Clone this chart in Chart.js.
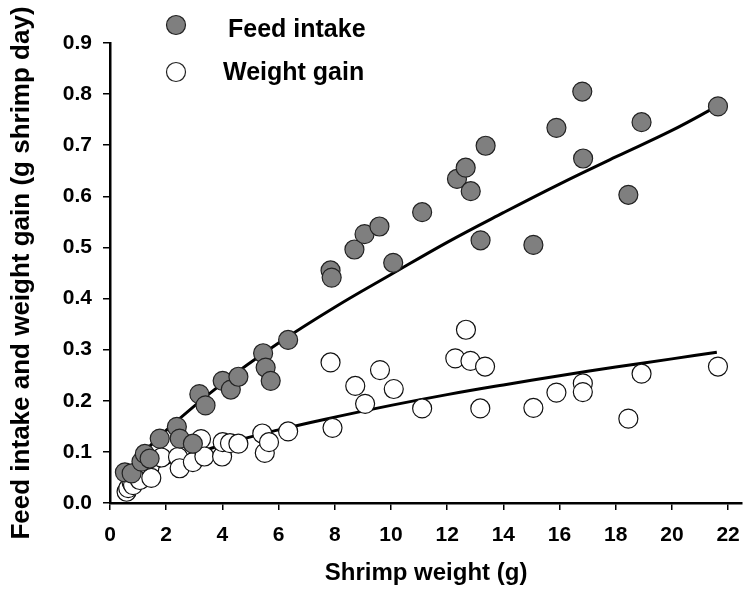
<!DOCTYPE html>
<html>
<head>
<meta charset="utf-8">
<script src="https://cdn.jsdelivr.net/npm/chart.js@4.4.1/dist/chart.umd.min.js"></script>
<style>
    html, body { margin: 0; padding: 0; background: #fff; }
    #wrap { position: relative; width: 753px; height: 592px; }
</style>
</head>
<body>
<div id="wrap"><canvas id="chart" width="753" height="592"></canvas></div>
<script>
// Feed intake points (shrimp weight g, g/shrimp/day)
const feedX = [0.53, 0.77, 1.12, 1.24, 1.41, 1.77, 2.38, 2.48, 2.95, 3.18, 3.40, 4.01, 4.30, 4.57,
    5.45, 5.54, 5.72, 6.34, 7.85, 7.89, 8.70, 9.06, 9.59, 10.08, 11.11, 12.35, 12.66, 12.84,
    13.19, 13.37, 15.07, 15.89, 16.81, 16.84, 18.45, 18.92, 21.64];
const feedY = [0.060, 0.058, 0.081, 0.096, 0.087, 0.126, 0.149, 0.126, 0.116, 0.213, 0.191, 0.239, 0.222, 0.247,
    0.293, 0.265, 0.239, 0.319, 0.455, 0.441, 0.496, 0.526, 0.541, 0.470, 0.569, 0.634, 0.656, 0.610,
    0.514, 0.699, 0.505, 0.734, 0.805, 0.674, 0.603, 0.745, 0.776];

// Weight gain points
const gainX = [0.59, 0.65, 0.77, 0.82, 1.06, 1.41, 1.47, 1.83, 2.42, 2.48, 2.95, 3.24, 3.36, 3.99,
    4.01, 4.27, 4.57, 5.42, 5.51, 5.66, 6.34, 7.85, 7.92, 8.73, 9.08, 9.61, 10.10, 11.11,
    12.29, 12.67, 12.83, 13.18, 13.35, 15.07, 15.89, 16.83, 16.83, 18.45, 18.92, 21.64];
const gainY = [0.022, 0.029, 0.040, 0.035, 0.045, 0.071, 0.049, 0.089, 0.090, 0.068, 0.080, 0.125, 0.091, 0.091,
    0.119, 0.117, 0.116, 0.136, 0.098, 0.119, 0.140, 0.275, 0.147, 0.229, 0.194, 0.260, 0.223, 0.185,
    0.283, 0.339, 0.278, 0.185, 0.267, 0.186, 0.216, 0.234, 0.217, 0.165, 0.253, 0.267];

// Fitted curves
const curveX = [0.5, 1, 2, 4, 6, 8, 10, 12, 14, 16, 18, 20, 21.6];
const feedCurve = [0.053, 0.087, 0.142, 0.234, 0.313, 0.383, 0.447, 0.510, 0.568, 0.624, 0.677, 0.729, 0.776];
const gainCurve = [0.036, 0.052, 0.077, 0.114, 0.143, 0.168, 0.191, 0.212, 0.231, 0.249, 0.266, 0.282, 0.295];

const FONT = "'Liberation Sans', Arial, sans-serif";
const GREY = '#7f7f7f';

function pts(xs, ys) {
    return xs.map((x, i) => ({ x: x, y: ys[i] }));
}

// Legend drawn at top-left like the original
const legendPlugin = {
    id: 'legendMarks',
    afterDraw(chart) {
        const c = chart.ctx;
        c.save();
        c.lineWidth = 1.2;
        c.strokeStyle = '#222';
        c.beginPath();
        c.arc(176, 25, 9.5, 0, Math.PI * 2);
        c.fillStyle = GREY;
        c.fill();
        c.stroke();
        c.beginPath();
        c.arc(176, 72, 9.5, 0, Math.PI * 2);
        c.fillStyle = '#fff';
        c.fill();
        c.stroke();
        c.fillStyle = '#000';
        c.font = 'bold 25px ' + FONT;
        c.textBaseline = 'alphabetic';
        c.fillText('Feed intake', 228, 37);
        c.fillText('Weight gain', 223, 79.5);
        c.restore();
    }
};

new Chart(document.getElementById('chart'), {
    type: 'scatter',
    data: {
        datasets: [
            {
                label: 'Feed intake',
                data: pts(feedX, feedY),
                backgroundColor: GREY,
                borderColor: '#222',
                borderWidth: 1.2,
                pointRadius: 9.5
            },
            {
                label: 'Weight gain',
                data: pts(gainX, gainY),
                backgroundColor: '#fff',
                borderColor: '#111',
                borderWidth: 1.2,
                pointRadius: 9.5
            },
            {
                type: 'line',
                data: pts(curveX, feedCurve),
                borderColor: '#000',
                borderWidth: 3,
                pointRadius: 0,
                tension: 0.4,
                fill: false
            },
            {
                type: 'line',
                data: pts(curveX, gainCurve),
                borderColor: '#000',
                borderWidth: 3,
                pointRadius: 0,
                tension: 0.4,
                fill: false
            }
        ]
    },
    options: {
        responsive: false,
        animation: false,
        events: [],
        layout: { padding: { top: 43, right: 8, left: 0, bottom: 0 } },
        plugins: {
            legend: { display: false },
            tooltip: { enabled: false }
        },
        scales: {
            x: {
                type: 'linear',
                min: 0,
                max: 22.5,
                afterFit: (s) => { s.height = 89; },
                border: { color: '#000', width: 2.5 },
                grid: { drawOnChartArea: false, drawTicks: true, tickLength: 7, color: '#000', lineWidth: 1.5 },
                ticks: {
                    stepSize: 2,
                    includeBounds: false,
                    maxRotation: 0,
                    padding: 13,
                    color: '#000',
                    font: { family: FONT, size: 21, weight: 'bold' }
                },
                title: {
                    display: true,
                    text: 'Shrimp weight (g)',
                    color: '#000',
                    padding: { top: 5 },
                    font: { family: FONT, size: 24, weight: 'bold' }
                }
            },
            y: {
                min: 0,
                max: 0.9,
                afterFit: (s) => { s.width = 110; },
                border: { color: '#000', width: 2.5 },
                grid: { drawOnChartArea: false, drawTicks: true, tickLength: 7, color: '#000', lineWidth: 1.5 },
                ticks: {
                    stepSize: 0.1,
                    padding: 11,
                    color: '#000',
                    font: { family: FONT, size: 21, weight: 'bold' },
                    callback: (v) => v.toFixed(1)
                },
                title: {
                    display: true,
                    text: 'Feed intake and weight gain (g shrimp day)',
                    color: '#000',
                    padding: { top: 6, bottom: 4 },
                    font: { family: FONT, size: 26, weight: 'bold' }
                }
            }
        }
    },
    plugins: [legendPlugin]
});
</script>
</body>
</html>
